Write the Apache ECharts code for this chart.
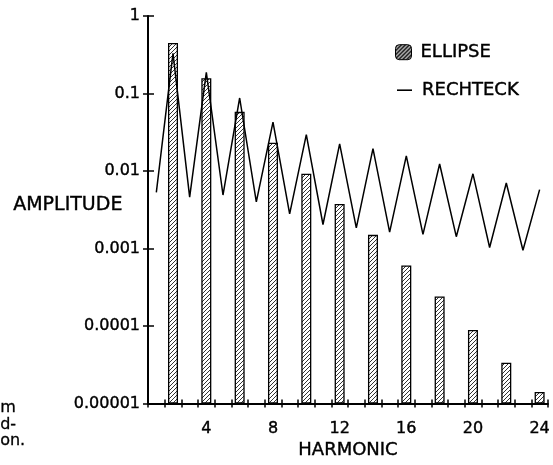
<!DOCTYPE html>
<html>
<head>
<meta charset="utf-8">
<script src="https://cdn.jsdelivr.net/npm/echarts@6/dist/echarts.min.js"></script>
<style>
  html, body { margin: 0; padding: 0; background: #fff; }
  #chart { width: 553px; height: 465px; }
</style>
</head>
<body>
<div id="chart"></div>
<script>
// Harmonic numbers along the x axis
const harmonics = ['1', '2', '3', '4', '5', '6', '7', '8', '9', '10', '11', '12',
                   '13', '14', '15', '16', '17', '18', '19', '20', '21', '22', '23', '24'];

// Ellipse spectrum: only even harmonics carry energy
const ellipse = [null, 0.45, null, 0.157, null, 0.058, null, 0.0231, null, 0.0092, null, 0.00376,
                 null, 0.00150, null, 0.000605, null, 0.00024, null, 0.000089, null, 0.0000335, null, 0.0000141];

// Rectangle spectrum: peaks at even, dips at odd harmonics
const rechteck = [0.0053, 0.33, 0.0046, 0.187, 0.0049, 0.0875, 0.0040, 0.0426, 0.0028, 0.0294, 0.00204, 0.0224,
                  0.00185, 0.0194, 0.00163, 0.0157, 0.00152, 0.0123, 0.00142, 0.0092, 0.00103, 0.0070, 0.00095, 0.00575];

// Decade tick labels on the amplitude axis, from 1 downwards
const yTickLabels = ['1', '0.1', '0.01', '0.001', '0.0001', '0.00001'];

// Every fourth harmonic gets a label
const xLabeled = ['4', '8', '12', '16', '20', '24'];

// Small text fragments at the lower left edge
const sideNotes = ['m', 'd-', 'on.'];

const FONT = '"DejaVu Sans", "Liberation Sans", sans-serif';
// slight outline to give the lettering a heavier stroke
const INK = { color: '#000', textBorderColor: '#000', textBorderWidth: 0.4 };

// Diagonal "////" hatch used as a repeating fill
function hatch(bg, fg, step, lw) {
  const c = document.createElement('canvas');
  c.width = c.height = step;
  const g = c.getContext('2d');
  g.fillStyle = bg;
  g.fillRect(0, 0, step, step);
  g.strokeStyle = fg;
  g.lineWidth = lw;
  g.beginPath();
  g.moveTo(0, step); g.lineTo(step, 0);
  g.moveTo(-1, 1); g.lineTo(1, -1);
  g.moveTo(step - 1, step + 1); g.lineTo(step + 1, step - 1);
  g.stroke();
  return { image: c, repeat: 'repeat' };
}

const chart = echarts.init(document.getElementById('chart'), null, { renderer: 'canvas' });

const yMin = 0.00001, yMax = 1;

const option = {
  animation: false,
  backgroundColor: '#fff',
  textStyle: { fontFamily: FONT, color: '#000' },
  grid: { left: 148, right: 5, top: 16, bottom: 54, containLabel: false },
  legend: [
    {
      data: [{ name: 'ELLIPSE', itemStyle: { color: hatch('#000', '#fff', 4, 1.2), borderColor: '#000', borderWidth: 1 } }],
      left: 395, top: 43, padding: 0,
      itemWidth: 16, itemHeight: 15,
      selectedMode: false,
      textStyle: Object.assign({ fontFamily: FONT, fontSize: 18, padding: [0, 0, 0, 4] }, INK)
    },
    {
      data: [{ name: 'RECHTECK', icon: 'rect' }],
      left: 397, top: 81, padding: 0,
      itemWidth: 15, itemHeight: 1.6,
      selectedMode: false,
      textStyle: Object.assign({ fontFamily: FONT, fontSize: 18, padding: [0, 0, 0, 5] }, INK)
    }
  ],
  xAxis: [
    {
      type: 'category',
      data: harmonics,
      boundaryGap: true,
      name: 'HARMONIC',
      nameLocation: 'middle',
      nameGap: 37,
      nameTextStyle: Object.assign({ fontFamily: FONT, fontSize: 18 }, INK),
      axisLine: { show: true, lineStyle: { color: '#000', width: 2 } },
      axisTick: { show: true, interval: 0, length: 4, lineStyle: { color: '#000', width: 1.5 } },
      axisLabel: Object.assign({
        interval: (idx, val) => xLabeled.indexOf(val) >= 0,
        fontFamily: FONT, fontSize: 16, margin: 17
      }, INK),
      splitLine: { show: false }
    },
    {
      type: 'category',
      data: harmonics,
      position: 'bottom',
      boundaryGap: true,
      axisLine: { show: false },
      axisTick: { show: true, inside: true, interval: 0, length: 4, lineStyle: { color: '#000', width: 1.5 } },
      axisLabel: { show: false },
      splitLine: { show: false }
    }
  ],
  yAxis: [
    {
      type: 'log',
      logBase: 10,
      min: yMin,
      max: yMax,
      startValue: yMin,
      position: 'left',
      axisLine: { show: true, lineStyle: { color: '#000', width: 2 } },
      axisTick: { show: true, length: 5, lineStyle: { color: '#000', width: 1.5 } },
      minorTick: { show: false },
      axisLabel: Object.assign({
        fontFamily: FONT, fontSize: 16, margin: 8,
        formatter: v => yTickLabels[Math.round(-Math.log10(v))] || ''
      }, INK),
      splitLine: { show: false }
    },
    {
      type: 'log',
      logBase: 10,
      min: yMin,
      max: yMax,
      position: 'left',
      axisLine: { show: false },
      axisTick: { show: true, inside: true, length: 6, lineStyle: { color: '#000', width: 1.5 } },
      axisLabel: { show: false },
      splitLine: { show: false }
    }
  ],
  series: [
    {
      name: 'ELLIPSE',
      type: 'bar',
      xAxisIndex: 0,
      yAxisIndex: 0,
      data: ellipse,
      barWidth: 10,
      z: 2,
      itemStyle: {
        color: hatch('#fff', '#333', 4, 1),
        borderColor: '#000',
        borderWidth: 1.3
      }
    },
    {
      name: 'RECHTECK',
      type: 'line',
      xAxisIndex: 0,
      yAxisIndex: 0,
      data: rechteck,
      symbol: 'none',
      showSymbol: false,
      z: 3,
      itemStyle: { color: '#000' },
      lineStyle: { color: '#000', width: 1.5 }
    }
  ],
  graphic: [
    {
      type: 'text', left: 13, top: 195,
      style: { text: 'AMPLITUDE', font: '19px ' + FONT, fill: '#000', stroke: '#000', lineWidth: 0.4 }
    },
    ...sideNotes.map((t, i) => ({
      type: 'text', left: 0, top: 400 + i * 16.5,
      style: { text: t, font: '16px ' + FONT, fill: '#000', stroke: '#000', lineWidth: 0.3 }
    }))
  ]
};

chart.setOption(option);
</script>
</body>
</html>
